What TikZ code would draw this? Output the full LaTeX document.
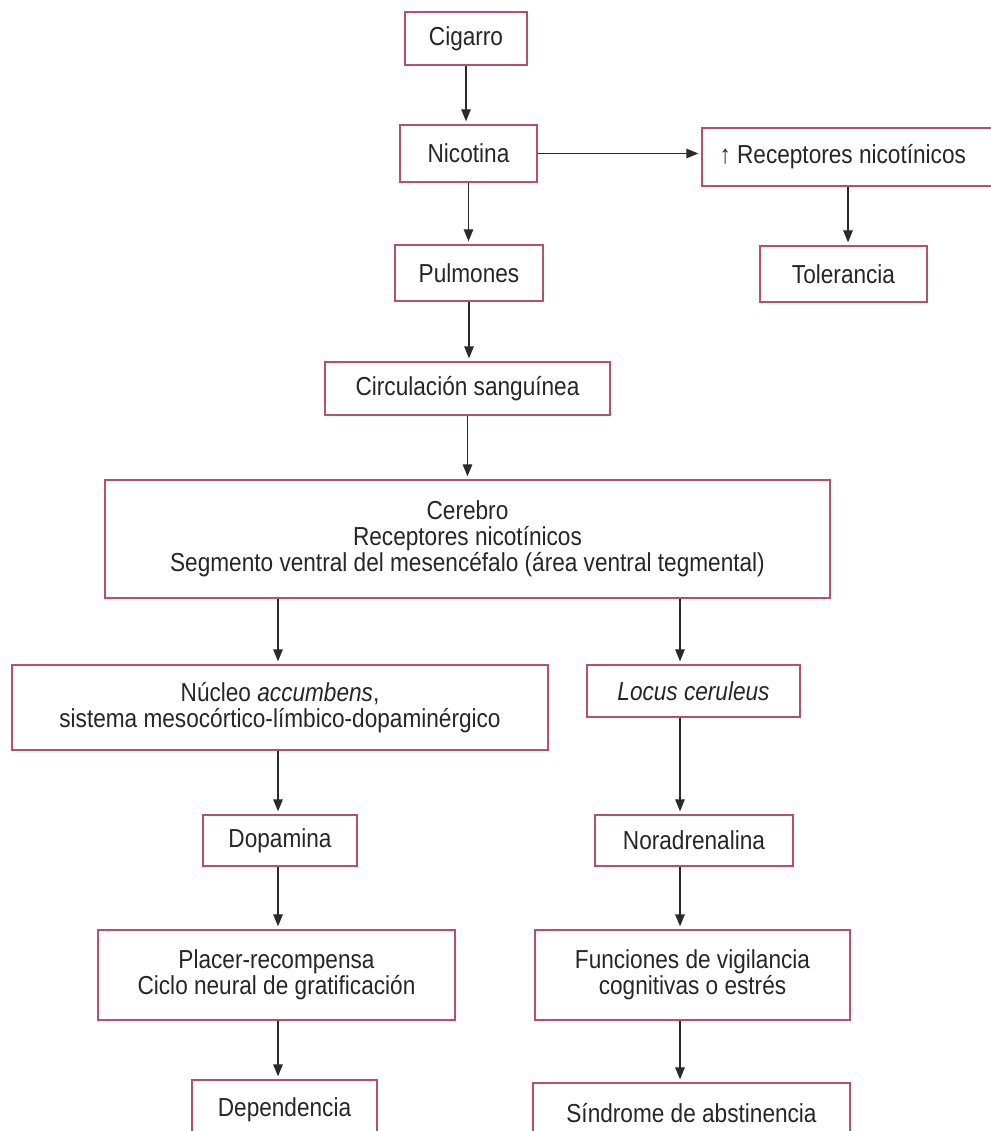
\documentclass[tikz,border=0pt]{standalone}
\usepackage{fontspec}
\setmainfont{Liberation Sans}[FakeStretch=0.87]
\usetikzlibrary{arrows.meta,calc}
\definecolor{boxpink}{HTML}{B8506A}
\definecolor{lineg}{HTML}{2A2A2A}
\begin{document}
\begin{tikzpicture}[x=1pt,y=-1pt,
  lbl/.style={font=\fontsize{26}{26}\selectfont,text=black!85},
  bx/.style={draw=boxpink,line width=1.3pt,rectangle,inner sep=0pt,align=center,lbl},
  arr/.style={draw=lineg,line width=1.3pt,-{Triangle[length=12pt,width=9.5pt]},shorten >=3pt}]
\useasboundingbox (0,0) rectangle (990,1131);
\node[bx,minimum width=122pt,minimum height=53pt] (cig) at (466,38.5) {Cigarro};
\node[bx,minimum width=137pt,minimum height=57pt] (nic) at (468.5,153.5) {Nicotina};
\node[bx,minimum width=294pt,minimum height=58pt] (rec) at (849,157) {};
\node[lbl,anchor=west] (rect) at (716,157) {↑ Receptores nicotínicos};
\node[bx,minimum width=167pt,minimum height=56pt] (tol) at (843.5,274) {Tolerancia};
\node[bx,minimum width=148pt,minimum height=56pt] (pul) at (469,273) {Pulmones};
\node[bx,minimum width=285pt,minimum height=53pt] (cir) at (467.5,388.5) {Circulación sanguínea};
\node[bx,minimum width=725pt,minimum height=118pt] (cer) at (467.5,539) {Cerebro\\Receptores nicotínicos\\Segmento ventral del mesencéfalo (área ventral tegmental)};
\node[bx,minimum width=536pt,minimum height=85pt] (nuc) at (280,707.5) {Núcleo \textit{accumbens},\\sistema mesocórtico-límbico-dopaminérgico};
\node[bx,minimum width=213pt,minimum height=52pt] (loc) at (693.5,691) {\textit{Locus ceruleus}};
\node[bx,minimum width=154pt,minimum height=51pt] (dop) at (280,840.5) {Dopamina};
\node[bx,minimum width=198pt,minimum height=51pt] (nor) at (694,840.5) {Noradrenalina};
\node[bx,minimum width=357pt,minimum height=90pt] (pla) at (276.5,975) {Placer-recompensa\\Ciclo neural de gratificación};
\node[bx,minimum width=315pt,minimum height=90pt] (fun) at (692.5,975) {Funciones de vigilancia\\cognitivas o estrés};
\node[bx,minimum width=185pt,minimum height=60pt] (dep) at (284.5,1110) {Dependencia};
\node[bx,minimum width=317pt,minimum height=60pt] (sin) at (691.5,1113) {Síndrome de abstinencia};
% connectors
\draw[arr] (cig.south) -- (cig.south |- nic.north);
\draw[arr] (nic.east) -- (rec.west |- nic.east);
\draw[arr] ([xshift=-1pt]rec.south) -- ([xshift=-1pt]rec.south |- tol.north);
\draw[arr] (nic.south) -- (nic.south |- pul.north);
\draw[arr] (pul.south) -- (pul.south |- cir.north);
\draw[arr] (cir.south) -- (cir.south |- cer.north);
\draw[arr] ([xshift=-2pt]nuc.north |- cer.south) -- ([xshift=-2pt]nuc.north);
\draw[arr] ([xshift=-13.5pt]loc.north |- cer.south) -- ([xshift=-13.5pt]loc.north);
\draw[arr] ([xshift=-2pt]nuc.south) -- ([xshift=-2pt]nuc.south |- dop.north);
\draw[arr] ([xshift=-13.5pt]loc.south) -- ([xshift=-13.5pt]loc.south |- nor.north);
\draw[arr] ([xshift=-2pt]dop.south) -- ([xshift=-2pt]dop.south |- pla.north);
\draw[arr] ([xshift=-14pt]nor.south) -- ([xshift=-14pt]nor.south |- fun.north);
\draw[arr] ([xshift=1.5pt]pla.south) -- ([xshift=1.5pt]pla.south |- dep.north);
\draw[arr] ([xshift=-12.5pt]fun.south) -- ([xshift=-12.5pt]fun.south |- sin.north);
\end{tikzpicture}
\end{document}
